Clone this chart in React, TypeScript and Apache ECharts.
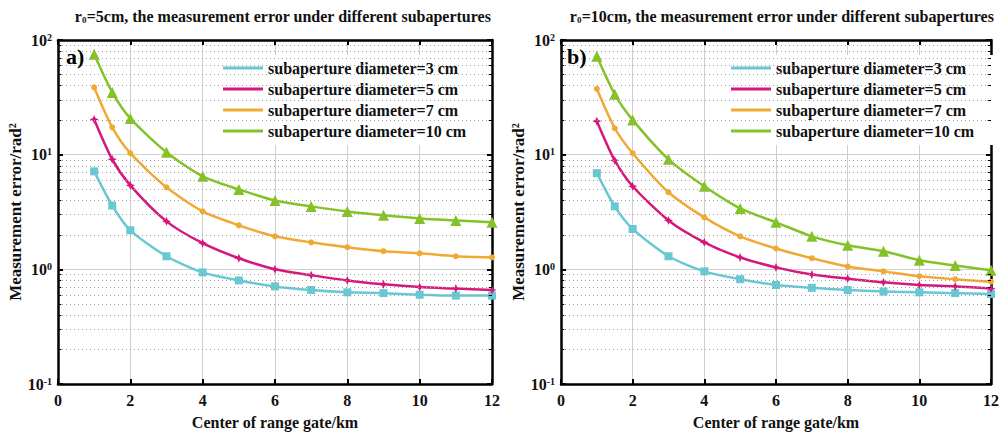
import React, { useEffect, useRef } from "react";
import * as echarts from "echarts";

const xs = [1, 1.5, 2, 3, 4, 5, 6, 7, 8, 9, 10, 11, 12];
const diameters = [3, 5, 7, 10];
const a3 = [7.15, 3.6, 2.19, 1.3, 0.94, 0.8, 0.71, 0.66, 0.63, 0.62, 0.6, 0.59, 0.59];
const a5 = [20.3, 9.1, 5.4, 2.62, 1.69, 1.25, 1.0, 0.89, 0.8, 0.74, 0.7, 0.68, 0.66];
const a7 = [38.6, 17.3, 10.3, 5.19, 3.2, 2.42, 1.94, 1.72, 1.56, 1.44, 1.38, 1.3, 1.27];
const a10 = [75, 34.9, 20.7, 10.5, 6.47, 4.98, 3.99, 3.54, 3.2, 2.96, 2.78, 2.67, 2.57];
const b3 = [6.9, 3.54, 2.25, 1.3, 0.96, 0.82, 0.73, 0.69, 0.66, 0.64, 0.63, 0.62, 0.61];
const b5 = [19.6, 8.9, 5.3, 2.67, 1.72, 1.27, 1.04, 0.9, 0.83, 0.77, 0.73, 0.71, 0.68];
const b7 = [37.5, 17, 10.3, 4.7, 2.84, 1.94, 1.52, 1.25, 1.06, 0.96, 0.87, 0.82, 0.78];
const b10 = [72, 33.6, 20.1, 9.1, 5.3, 3.4, 2.57, 1.94, 1.62, 1.44, 1.2, 1.08, 0.98];
const minorTicks = [0.2, 0.3, 0.4, 0.5, 0.6, 0.7, 0.8, 0.9, 2, 3, 4, 5, 6, 7, 8, 9, 20, 30, 40, 50, 60, 70, 80, 90];
const panelTitles = ["=5cm, the measurement error under different subapertures", "=10cm, the measurement error under different subapertures"];
const panelLabels = ["a)", "b)"];

const colors = ["#68c8d4", "#d6177c", "#f0aa33", "#84c227"];
const symbols = [
  "rect",
  "path://M0,-10 L3,-3 L10,0 L3,3 L0,10 L-3,3 L-10,0 L-3,-3 Z",
  "circle",
  "triangle",
];
const symbolSizes = [8, 9, 6, 11];
const FONT = "Liberation Serif";

export default function App() {
  const ref = useRef<HTMLDivElement>(null);
  useEffect(() => {
    if (!ref.current) return;
    const chart = echarts.init(ref.current, null, { renderer: "svg" });
    const grids = [
      { left: 58, top: 40, width: 434, height: 344 },
      { left: 561, top: 40, width: 431, height: 344 },
    ];
    const panelData = [
      [a3, a5, a7, a10],
      [b3, b5, b7, b10],
    ];
    const names = diameters.map((d) => `subaperture diameter=${d} cm`);
    const xAxis: any[] = [];
    const yAxis: any[] = [];
    const series: any[] = [];
    grids.forEach((g, p) => {
      xAxis.push({
        type: "value", gridIndex: p, min: 0, max: 12, interval: 2, position: "bottom",
        axisLine: { show: true, onZero: false, lineStyle: { color: "#000", width: 2.5 } },
        axisTick: { show: true, inside: true, length: 5, lineStyle: { color: "#000", width: 2 } },
        axisLabel: { margin: 8, color: "#111", fontFamily: FONT, fontWeight: "bold", fontSize: 16 },
        splitLine: { show: true, lineStyle: { color: "#cfcfcf", width: 1 } },
        name: "Center of range gate/km", nameLocation: "middle", nameGap: 30,
        nameTextStyle: { color: "#111", fontFamily: FONT, fontWeight: "bold", fontSize: 16 },
      });
      xAxis.push({
        type: "value", gridIndex: p, min: 0, max: 12, interval: 2, position: "top",
        axisLine: { show: true, onZero: false, lineStyle: { color: "#000", width: 2.5 } },
        axisTick: { show: true, inside: true, length: 5, lineStyle: { color: "#000", width: 2 } },
        axisLabel: { show: false }, splitLine: { show: false },
      });
      yAxis.push({
        type: "log", logBase: 10, gridIndex: p, min: 0.1, max: 100, position: "left",
        axisLine: { show: true, onZero: false, lineStyle: { color: "#000", width: 2.5 } },
        axisTick: { show: true, inside: true, length: 5, lineStyle: { color: "#000", width: 2 } },
        axisLabel: {
          margin: 6,
          formatter: (v: number) => `{b|10}{s|${Math.round(Math.log10(v))}}`,
          rich: {
            b: { color: "#111", fontFamily: FONT, fontWeight: "bold", fontSize: 16 },
            s: { color: "#111", fontFamily: FONT, fontWeight: "bold", fontSize: 10, verticalAlign: "top", padding: [0, 0, 6, 0] },
          },
        },
        splitLine: { show: true, lineStyle: { color: "#cfcfcf", width: 1 } },
        name: "Measurement error/rad²", nameLocation: "middle", nameGap: 34, nameRotate: 90,
        nameTextStyle: { color: "#111", fontFamily: FONT, fontWeight: "bold", fontSize: 17 },
      });
      yAxis.push({
        type: "log", logBase: 10, gridIndex: p, min: 0.1, max: 100, position: "right",
        axisLine: { show: true, onZero: false, lineStyle: { color: "#000", width: 2.5 } },
        axisTick: { show: true, inside: true, length: 5, lineStyle: { color: "#000", width: 2 } },
        axisLabel: { show: false }, splitLine: { show: false },
      });
      const gridLines: any[] = [];
      const tickLines: any[] = [];
      minorTicks.forEach((v) => {
        gridLines.push([{ coord: [0, v] }, { coord: [12, v] }]);
        tickLines.push([{ coord: [0, v] }, { coord: [0.09, v] }]);
        tickLines.push([{ coord: [11.91, v] }, { coord: [12, v] }]);
      });
      series.push({
        name: "minor-grid-" + p, type: "line", xAxisIndex: p * 2, yAxisIndex: p * 2, data: [], z: 1,
        silent: true,
        markLine: {
          silent: true, symbol: ["none", "none"], label: { show: false },
          lineStyle: { type: [1, 3], color: "#a0a0a0", width: 1 },
          emphasis: { disabled: true },
          data: gridLines,
        },
      });
      series.push({
        name: "minor-tick-" + p, type: "line", xAxisIndex: p * 2, yAxisIndex: p * 2, data: [], z: 5,
        silent: true,
        markLine: {
          silent: true, symbol: ["none", "none"], label: { show: false },
          lineStyle: { type: "solid", color: "#000", width: 1 },
          emphasis: { disabled: true },
          data: tickLines,
        },
      });
      panelData[p].forEach((vals, i) => {
        series.push({
          name: names[i], type: "line", xAxisIndex: p * 2, yAxisIndex: p * 2, z: 3,
          data: xs.map((x, k) => [x, vals[k]]),
          smooth: 0.25,
          symbol: symbols[i], symbolSize: symbolSizes[i], showSymbol: true,
          itemStyle: { color: colors[i] },
          lineStyle: { color: colors[i], width: 2.5 },
          emphasis: { disabled: true },
        });
      });
    });

    const legendBase = {
      orient: "vertical", top: 55, data: names, backgroundColor: "#fff",
      padding: [5, 20, 6, 5], icon: "rect", itemWidth: 40, itemHeight: 3, itemGap: 5,
      textStyle: { color: "#111", fontFamily: FONT, fontWeight: "bold", fontSize: 16, lineHeight: 16 },
      selectedMode: false, z: 4,
    };

    const titleRich = {
      n: { color: "#111", fontFamily: FONT, fontWeight: "bold", fontSize: 16 },
      sub: { color: "#111", fontFamily: FONT, fontWeight: "bold", fontSize: 9, verticalAlign: "bottom" },
    };

    chart.setOption({
      animation: false,
      backgroundColor: "#fff",
      title: [
        { text: `{n|r}{sub|0}{n|${panelTitles[0]}}`, left: 278, top: 3, textAlign: "center", textStyle: { rich: titleRich } },
        { text: `{n|r}{sub|0}{n|${panelTitles[1]}}`, left: 777, top: 3, textAlign: "center", textStyle: { rich: titleRich } },
      ],
      grid: grids,
      xAxis,
      yAxis,
      legend: [
        { ...legendBase, left: 218 },
        { ...legendBase, left: 726 },
      ],
      graphic: panelLabels.map((t, p) => ({
        type: "text", left: p === 0 ? 66 : 567, top: 45, z: 10,
        style: { text: t, font: `bold 22px ${FONT}`, fill: "#000" },
      })),
      series,
    });
    return () => chart.dispose();
  }, []);
  return <div ref={ref} style={{ position: "fixed", left: 0, top: 0, width: 1002, height: 437 }} />;
}
